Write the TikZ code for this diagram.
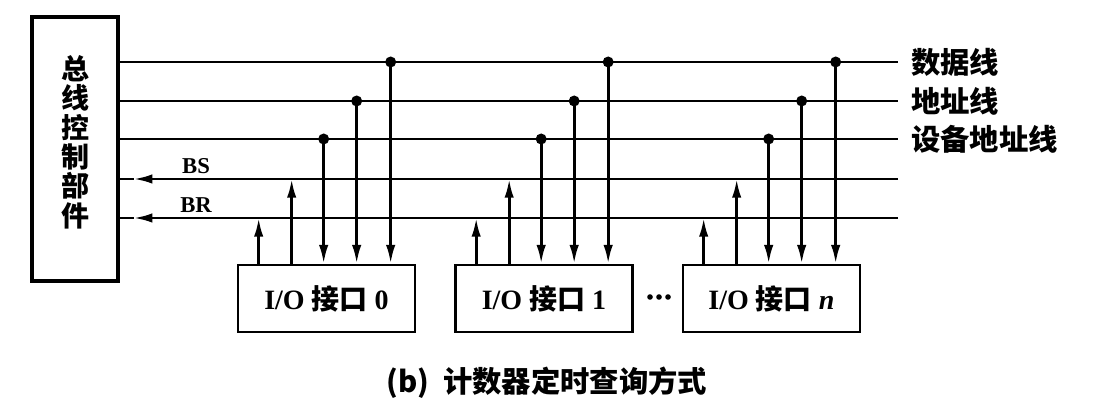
\documentclass[tikz,border=0pt]{standalone}
\usepackage{fontspec}
\setmainfont{Liberation Serif}
\newfontfamily\cjk{Noto Sans CJK SC}
\usetikzlibrary{arrows.meta,positioning}

\tikzset{every picture/.style={line width=2pt},
  tap/.style={-{Latex[length=14pt,width=7pt]}},
  ctrlbox/.style={draw,line width=2.4pt,minimum width=64.5pt,minimum height=198pt,inner sep=0pt},
  iobox/.style={draw,minimum width=132.75pt,minimum height=50.25pt,inner sep=0pt,font=\bfseries\fontsize{21}{24}\selectfont},
  buslabel/.style={inner sep=0.75pt,font=\cjk\bfseries\fontsize{22}{24}\selectfont},
  siglabel/.style={inner sep=0.75pt,font=\bfseries\fontsize{17}{20}\selectfont}
}

\begin{document}
\begin{tikzpicture}[x=0.75pt,y=0.75pt,yscale=-1,xscale=1]
        \useasboundingbox (0,0) rectangle (1105,409);

        %Shape: bus controller
        \node [ctrlbox] (ctrl) at (75,149) {};
        \node [align=center,inner sep=0pt,font=\cjk\bfseries\fontsize{21}{22}\selectfont] (ctrltext) at (75,142) {总\\线\\控\\制\\部\\件};

        %Shape: I/O interfaces
        \node [iobox] (io0) at (326.5,298.5) {I/O {\cjk 接口} 0};
        \node [iobox] (io1) at (544,298.5) {I/O {\cjk 接口} 1};
        \node [iobox] (ion) at (771.5,298.5) {I/O {\cjk 接口} \textit{n}};
        \coordinate (dots) at (659,297);
        \foreach \dx in {-9,0,9} \fill ([xshift=\dx*0.75pt]dots) circle (2.8);

        % bus lines
        \coordinate (dataR) at (898,62);
        \coordinate (addrR) at (898,101);
        \coordinate (devR) at (898,139);
        \coordinate (bsR) at (898,179);
        \coordinate (brR) at (898,218);
        \draw (ctrl.east |- dataR) -- (dataR);
        \draw (ctrl.east |- addrR) -- (addrR);
        \draw (ctrl.east |- devR) -- (devR);
        \path (ctrl.east |- bsR) ++(14,0) coordinate (bsT);
        \path (ctrl.east |- brR) ++(14,0) coordinate (brT);
        \draw [tap] (bsR) -- (bsT);
        \draw (bsT) -- (ctrl.east |- bsR);
        \draw [tap] (brR) -- (brT);
        \draw (brT) -- (ctrl.east |- brR);

        % Text Node
        \node [buslabel,right=8pt of dataR] (datalabel) {数据线};
        \node [buslabel,right=8pt of addrR] (addrlabel) {地址线};
        \node [buslabel,right=8pt of devR] (devlabel) {设备地址线};
        \node [siglabel] (bslabel) at (196,166) {BS};
        \node [siglabel] (brlabel) at (196,205) {BR};

        % taps of each interface
        \foreach \b in {io0,io1,ion} {
          \path (\b.north west) ++(22,0) coordinate (\b-br) ++(33,0) coordinate (\b-bs)
                ++(32,0) coordinate (\b-dev) ++(33,0) coordinate (\b-addr) ++(34,0) coordinate (\b-data);
          \draw [tap] (\b-br) -- (\b-br |- brR);
          \draw [tap] (\b-bs) -- (\b-bs |- bsR);
          \draw [tap] (\b-dev |- devR) -- (\b-dev);
          \draw [tap] (\b-addr |- addrR) -- (\b-addr);
          \draw [tap] (\b-data |- dataR) -- (\b-data);
          \fill (\b-dev |- devR) circle (5.5);
          \fill (\b-addr |- addrR) circle (5.5);
          \fill (\b-data |- dataR) circle (5.5);
        }

        % caption
        \node [font=\cjk\bfseries\fontsize{22}{24}\selectfont] (caption) at (547,383) {(b)\ \ 计数器定时查询方式};
\end{tikzpicture}
\end{document}
